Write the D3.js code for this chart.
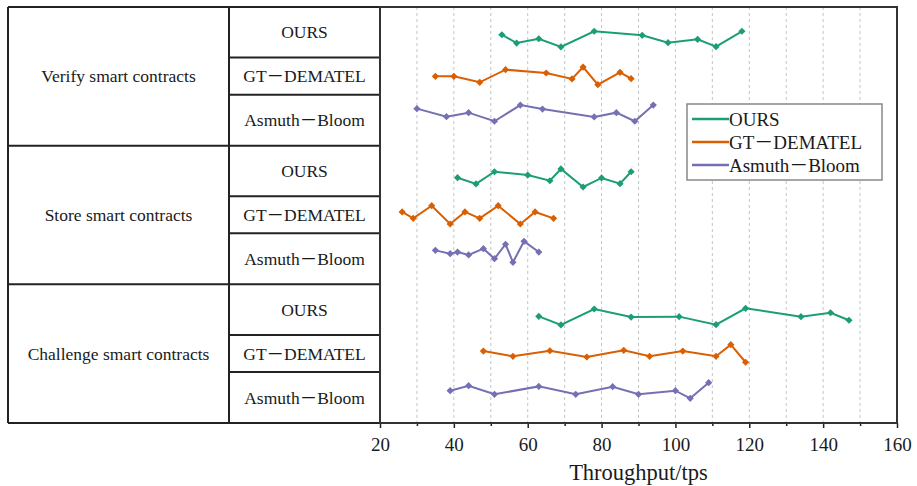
<!DOCTYPE html>
<html>
<head>
<meta charset="utf-8">
<script src="https://cdn.jsdelivr.net/npm/d3@7"></script>
<style>
  body { margin: 0; background: #fff; }
  text { font-family: "Liberation Serif", "Times New Roman", "Noto Sans CJK SC", serif; fill: #1a1a1a; }
</style>
</head>
<body>
<script>
// Data
var groups = ["Verify smart contracts", "Store smart contracts", "Challenge smart contracts"];
var methods = ["OURS", "GT\uFF0DDEMATEL", "Asmuth\uFF0DBloom"];
var colors = ["#1b9e77", "#d95f02", "#7570b3"];
var xTicks = [20, 40, 60, 80, 100, 120, 140, 160];
var xMinor = [30, 50, 70, 90, 110, 130, 150];

// throughput per point, one list per group (verify, store, challenge)
var oursX = [
  [53, 57, 63, 69, 78, 91, 98, 106, 111, 118],
  [41, 46, 51, 60, 66, 69, 75, 80, 85, 88],
  [63, 69, 78, 88, 101, 111, 119, 134, 142, 147]
];
var gtX = [
  [35, 40, 47, 54, 65, 72, 75, 79, 85, 88],
  [26, 29, 34, 39, 43, 47, 52, 58, 62, 67],
  [48, 56, 66, 76, 86, 93, 102, 111, 115, 119]
];
var asmX = [
  [30, 38, 44, 51, 58, 64, 78, 84, 89, 94],
  [35, 39, 41, 44, 48, 51, 54, 56, 59, 63],
  [39, 44, 51, 63, 73, 83, 90, 100, 104, 109]
];
// vertical position of each point (row units, 0 = top, 3 = bottom)
var oursY = [
  [0.200, 0.260, 0.229, 0.288, 0.175, 0.204, 0.257, 0.233, 0.286, 0.175],
  [1.231, 1.276, 1.188, 1.212, 1.253, 1.168, 1.298, 1.233, 1.274, 1.188],
  [2.231, 2.293, 2.178, 2.236, 2.233, 2.291, 2.173, 2.233, 2.205, 2.259]
];
var gtY = [
  [0.500, 0.500, 0.543, 0.452, 0.476, 0.519, 0.433, 0.560, 0.471, 0.517],
  [1.478, 1.524, 1.433, 1.565, 1.478, 1.524, 1.433, 1.565, 1.478, 1.524],
  [2.481, 2.519, 2.479, 2.524, 2.476, 2.519, 2.481, 2.519, 2.435, 2.562]
];
var asmY = [
  [0.733, 0.791, 0.762, 0.824, 0.707, 0.736, 0.793, 0.762, 0.824, 0.707],
  [1.755, 1.779, 1.767, 1.788, 1.743, 1.815, 1.711, 1.841, 1.690, 1.767],
  [2.767, 2.731, 2.793, 2.736, 2.793, 2.738, 2.793, 2.767, 2.822, 2.709]
];

var w = 917, h = 486;
var plotL = 380, plotR = 897, plotT = 7, plotB = 423;
var tableL = 8, tableM = 229;
var rowSplits = [0.365, 0.632]; // OURS|GT and GT|Asmuth borders inside a group

var x = d3.scaleLinear().domain([20, 160]).range([plotL, plotR]);
var y = d3.scaleLinear().domain([0, 3]).range([plotT, plotB]);

var svg = d3.select("body").append("svg").
attr("width", w).
attr("height", h);

// Grid lines
svg.append("g").selectAll("line").
data(d3.range(30, 151, 10)).
enter().append("line").
attr("x1", function (d) {return x(d);}).
attr("x2", function (d) {return x(d);}).
attr("y1", plotT).
attr("y2", plotB).
attr("stroke", "#c4c4c4").
attr("stroke-width", 1).
attr("stroke-dasharray", "3,3");

// Table on the left
var table = svg.append("g").attr("class", "table");

groups.forEach(function (name, gi) {
  var y0 = y(gi), y1 = y(gi + 1);
  var rows = [gi, gi + rowSplits[0], gi + rowSplits[1], gi + 1];

  table.append("text").
  attr("x", (tableL + tableM) / 2).
  attr("y", (y0 + y1) / 2).
  attr("dy", "0.35em").
  attr("text-anchor", "middle").
  style("font-size", "17.5px").
  text(name);

  methods.forEach(function (m, mi) {
    table.append("text").
    attr("x", (tableM + plotL) / 2).
    attr("y", (y(rows[mi]) + y(rows[mi + 1])) / 2).
    attr("dy", "0.35em").
    attr("text-anchor", "middle").
    style("font-size", "17.5px").
    text(m);
  });

  table.selectAll(null).
  data(rows.slice(1, 3)).
  enter().append("line").
  attr("x1", tableM).
  attr("x2", plotL).
  attr("y1", function (d) {return y(d);}).
  attr("y2", function (d) {return y(d);}).
  attr("stroke", "#222").
  attr("stroke-width", 2);
});

table.selectAll(".hline").
data([0, 1, 2, 3]).
enter().append("line").
attr("class", "hline").
attr("x1", tableL).
attr("x2", plotL).
attr("y1", function (d) {return y(d);}).
attr("y2", function (d) {return y(d);}).
attr("stroke", "#222").
attr("stroke-width", 2);

table.selectAll(".vline").
data([tableL, tableM]).
enter().append("line").
attr("class", "vline").
attr("x1", function (d) {return d;}).
attr("x2", function (d) {return d;}).
attr("y1", plotT).
attr("y2", plotB).
attr("stroke", "#222").
attr("stroke-width", 2);

// Series
var seriesX = [oursX, gtX, asmX];
var seriesY = [oursY, gtY, asmY];
var line = d3.line().
x(function (d) {return x(d[0]);}).
y(function (d) {return y(d[1]);});
// square turned 45 degrees gives the wide diamond marker
var diamond = d3.symbol().type(d3.symbolSquare).size(26);

seriesX.forEach(function (sx, si) {
  sx.forEach(function (xs, gi) {
    var pts = xs.map(function (v, i) {return [v, seriesY[si][gi][i]];});
    svg.append("path").
    datum(pts).
    attr("d", line).
    attr("fill", "none").
    attr("stroke", colors[si]).
    attr("stroke-width", 2);

    svg.append("g").selectAll("path").
    data(pts).
    enter().append("path").
    attr("d", diamond).
    attr("transform", function (d) {return "translate(" + x(d[0]) + "," + y(d[1]) + ") rotate(45)";}).
    attr("fill", colors[si]);
  });
});

// Axis
var axis = svg.append("g").
attr("transform", "translate(0," + plotB + ")").
call(d3.axisBottom(x).tickValues(xTicks).tickSize(5).tickPadding(10));
axis.select(".domain").remove();
axis.selectAll("text").style("font-size", "19px").style("font-family", "Liberation Serif").attr("fill", "#1a1a1a");
axis.selectAll("line").attr("stroke", "#222").attr("stroke-width", 1.5);

var minor = svg.append("g").
attr("transform", "translate(0," + plotB + ")").
call(d3.axisBottom(x).tickValues(xMinor).tickSize(3).tickFormat(""));
minor.select(".domain").remove();
minor.selectAll("line").attr("stroke", "#222").attr("stroke-width", 1.5);

svg.append("text").
attr("x", (plotL + plotR) / 2).
attr("y", 480).
attr("text-anchor", "middle").
style("font-size", "22.5px").
text("Throughput/tps");

// Frame
svg.append("rect").
attr("x", plotL).
attr("y", plotT).
attr("width", plotR - plotL).
attr("height", plotB - plotT).
attr("fill", "none").
attr("stroke", "#333").
attr("stroke-width", 2);

// Legend
var legend = svg.append("g").attr("transform", "translate(687,104)");
legend.append("rect").
attr("width", 195).
attr("height", 76).
attr("fill", "#fff").
attr("stroke", "#888").
attr("stroke-width", 1.5);

var item = legend.selectAll(".item").
data(methods).
enter().append("g").
attr("class", "item").
attr("transform", function (d, i) {return "translate(0," + (15 + i * 23) + ")";});

item.append("line").
attr("x1", 5).
attr("x2", 42).
attr("stroke", function (d, i) {return colors[i];}).
attr("stroke-width", 2.5);

item.append("text").
attr("x", 42).
attr("dy", "0.35em").
style("font-size", "19px").
text(function (d) {return d;});
</script>
</body>
</html>
